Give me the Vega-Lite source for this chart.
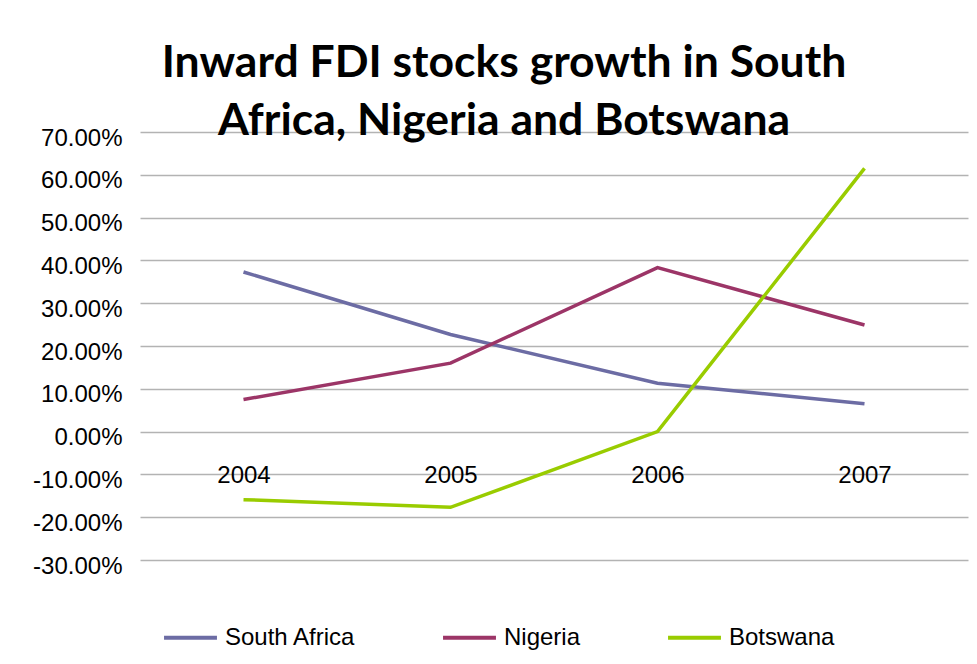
{
  "$schema": "https://vega.github.io/schema/vega-lite/v6.json",
  "autosize": "none",
  "width": 828,
  "height": 428,
  "padding": {"left": 140, "top": 132, "right": 9, "bottom": 104},
  "background": "white",
  "title": {
    "text": ["Inward FDI stocks growth in South", "Africa, Nigeria and Botswana"],
    "font": "Lato",
    "fontWeight": "bold",
    "fontSize": 44.5,
    "color": "black",
    "anchor": "middle",
    "frame": "group",
    "dx": -50,
    "lineHeight": 58,
    "offset": -18
  },
  "data": {
    "values": [
      {"year": "2004", "country": "South Africa", "growth": 0.373},
      {"year": "2005", "country": "South Africa", "growth": 0.227},
      {"year": "2006", "country": "South Africa", "growth": 0.113},
      {"year": "2007", "country": "South Africa", "growth": 0.065},
      {"year": "2004", "country": "Nigeria", "growth": 0.075},
      {"year": "2005", "country": "Nigeria", "growth": 0.160},
      {"year": "2006", "country": "Nigeria", "growth": 0.383},
      {"year": "2007", "country": "Nigeria", "growth": 0.249},
      {"year": "2004", "country": "Botswana", "growth": -0.159},
      {"year": "2005", "country": "Botswana", "growth": -0.177},
      {"year": "2006", "country": "Botswana", "growth": 0.0},
      {"year": "2007", "country": "Botswana", "growth": 0.615}
    ]
  },
  "mark": {"type": "line", "strokeWidth": 3.5},
  "encoding": {
    "x": {
      "field": "year",
      "type": "ordinal",
      "scale": {"type": "point", "padding": 0.5},
      "axis": {
        "title": null,
        "orient": "bottom",
        "offset": -128,
        "domain": false,
        "ticks": false,
        "grid": false,
        "labelAngle": 0,
        "labelFont": "Liberation Sans",
        "labelFontSize": 24,
        "labelColor": "black",
        "labelPadding": 31
      }
    },
    "y": {
      "field": "growth",
      "type": "quantitative",
      "scale": {"domain": [-0.3, 0.7], "nice": false, "zero": false},
      "axis": {
        "title": null,
        "format": ".2%",
        "labelExpr": "replace(datum.label, '\u2212', '-')",
        "values": [-0.3, -0.2, -0.1, 0, 0.1, 0.2, 0.3, 0.4, 0.5, 0.6, 0.7],
        "domain": false,
        "ticks": false,
        "grid": true,
        "gridColor": "#b3b3b3",
        "gridWidth": 1.5,
        "labelFont": "Liberation Sans",
        "labelFontSize": 24,
        "labelColor": "black",
        "labelPadding": 18,
        "labelOffset": 6
      }
    },
    "color": {
      "field": "country",
      "type": "nominal",
      "sort": ["South Africa", "Nigeria", "Botswana"],
      "scale": {
        "domain": ["South Africa", "Nigeria", "Botswana"],
        "range": ["#6c6ca4", "#9c3567", "#99cc00"]
      },
      "legend": {
        "title": null,
        "orient": "none",
        "direction": "horizontal",
        "legendX": 22,
        "legendY": 477,
        "padding": 0,
        "symbolType": "stroke",
        "symbolStrokeWidth": 4,
        "symbolSize": 2800,
        "labelFont": "Liberation Sans",
        "labelFontSize": 24,
        "labelColor": "black",
        "labelOffset": 6,
        "columnPadding": 79
      }
    }
  },
  "config": {"view": {"stroke": null}}
}
